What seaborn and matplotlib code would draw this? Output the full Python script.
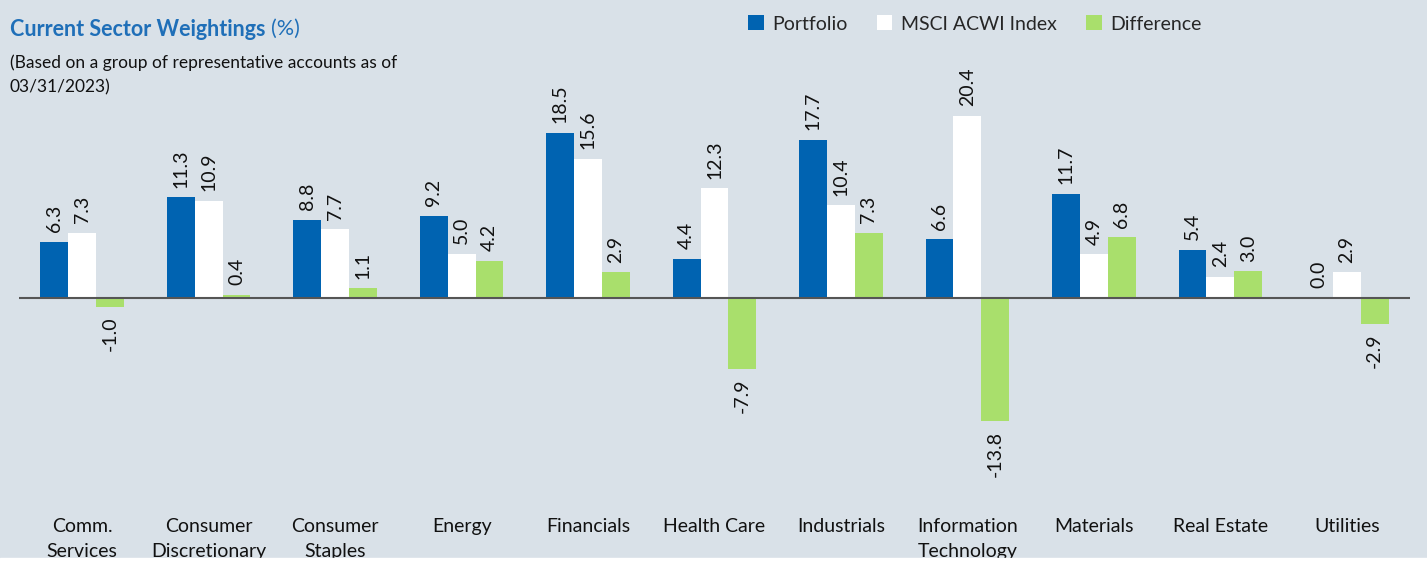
import matplotlib
matplotlib.use("Agg")
import matplotlib.pyplot as plt
import pandas as pd
import seaborn as sns
from matplotlib.patches import Rectangle

sectors = ["Comm.\nServices", "Consumer\nDiscretionary", "Consumer\nStaples", "Energy",
           "Financials", "Health Care", "Industrials", "Information\nTechnology",
           "Materials", "Real Estate", "Utilities"]
portfolio = [6.3, 11.3, 8.8, 9.2, 18.5, 4.4, 17.7, 6.6, 11.7, 5.4, 0.0]
index_wts = [7.3, 10.9, 7.7, 5.0, 15.6, 12.3, 10.4, 20.4, 4.9, 2.4, 2.9]
difference = [-1.0, 0.4, 1.1, 4.2, 2.9, -7.9, 7.3, -13.8, 6.8, 3.0, -2.9]
series = ["Portfolio", "MSCI ACWI Index", "Difference"]
colors = ["#0063b1", "#ffffff", "#a9df6c"]

bg = "#d9e1e8"

df = pd.DataFrame({
    "Sector": sectors * 3,
    "Series": [series[0]] * 11 + [series[1]] * 11 + [series[2]] * 11,
    "Value": portfolio + index_wts + difference,
})

sns.set_style("white")
plt.rcParams["font.family"] = ["Lato", "DejaVu Sans"]

fig = plt.figure(figsize=(14.27, 5.61), dpi=100, facecolor=bg)
ax = fig.add_axes([19 / 1427, 1 - 500 / 561, (1410 - 19) / 1427, 400 / 561])
ax.set_facecolor(bg)

sns.barplot(data=df, x="Sector", y="Value", hue="Series", palette=colors,
            width=0.66, linewidth=0, saturation=1, ax=ax, legend=True)

for c in ax.containers:
    ax.bar_label(c, fmt="%.1f", rotation=90, padding=7, fontsize=14, color="#111111")

ax.axhline(0, color="#555555", lw=1.5, zorder=5)
ax.set_xlim(-0.5, 10.5)
ax.set_ylim(-22.6, 22.2)
for s in ax.spines.values():
    s.set_visible(False)
ax.set_yticks([])
ax.set_xlabel("")
ax.set_ylabel("")
ax.tick_params(axis="x", length=0, pad=13, labelsize=14, labelcolor="#111111")
for t in ax.get_xticklabels():
    t.set_va("top")
    t.set_linespacing(1.55)

handles, labels = ax.get_legend_handles_labels()
ax.get_legend().remove()
fig.legend(handles, labels, loc="center", bbox_to_anchor=(975 / 1427, 1 - 24 / 561),
           ncol=3, frameon=False, fontsize=14, handlelength=0.8, handleheight=0.8,
           handletextpad=0.45, columnspacing=1.5)

title = fig.text(10 / 1427, 1 - 29 / 561, "Current Sector Weightings", color="#1f6fb8",
                 fontsize=15.5, fontweight="bold", va="center", ha="left")
fig.canvas.draw()
bb = title.get_window_extent(fig.canvas.get_renderer())
fig.text((bb.x1 + 5) / 1427, 1 - 29 / 561, "(%)", color="#1f6fb8", fontsize=15.5,
         va="center", ha="left")
fig.text(10 / 1427, 1 - 75 / 561,
         "(Based on a group of representative accounts as of\n03/31/2023)",
         fontsize=12.5, color="#111111", va="center", ha="left", linespacing=1.65)

fig.add_artist(Rectangle((0, 0), 1, 3 / 561, transform=fig.transFigure,
                         color="white", zorder=10))

fig.savefig("out.png", dpi=100, facecolor=bg)
